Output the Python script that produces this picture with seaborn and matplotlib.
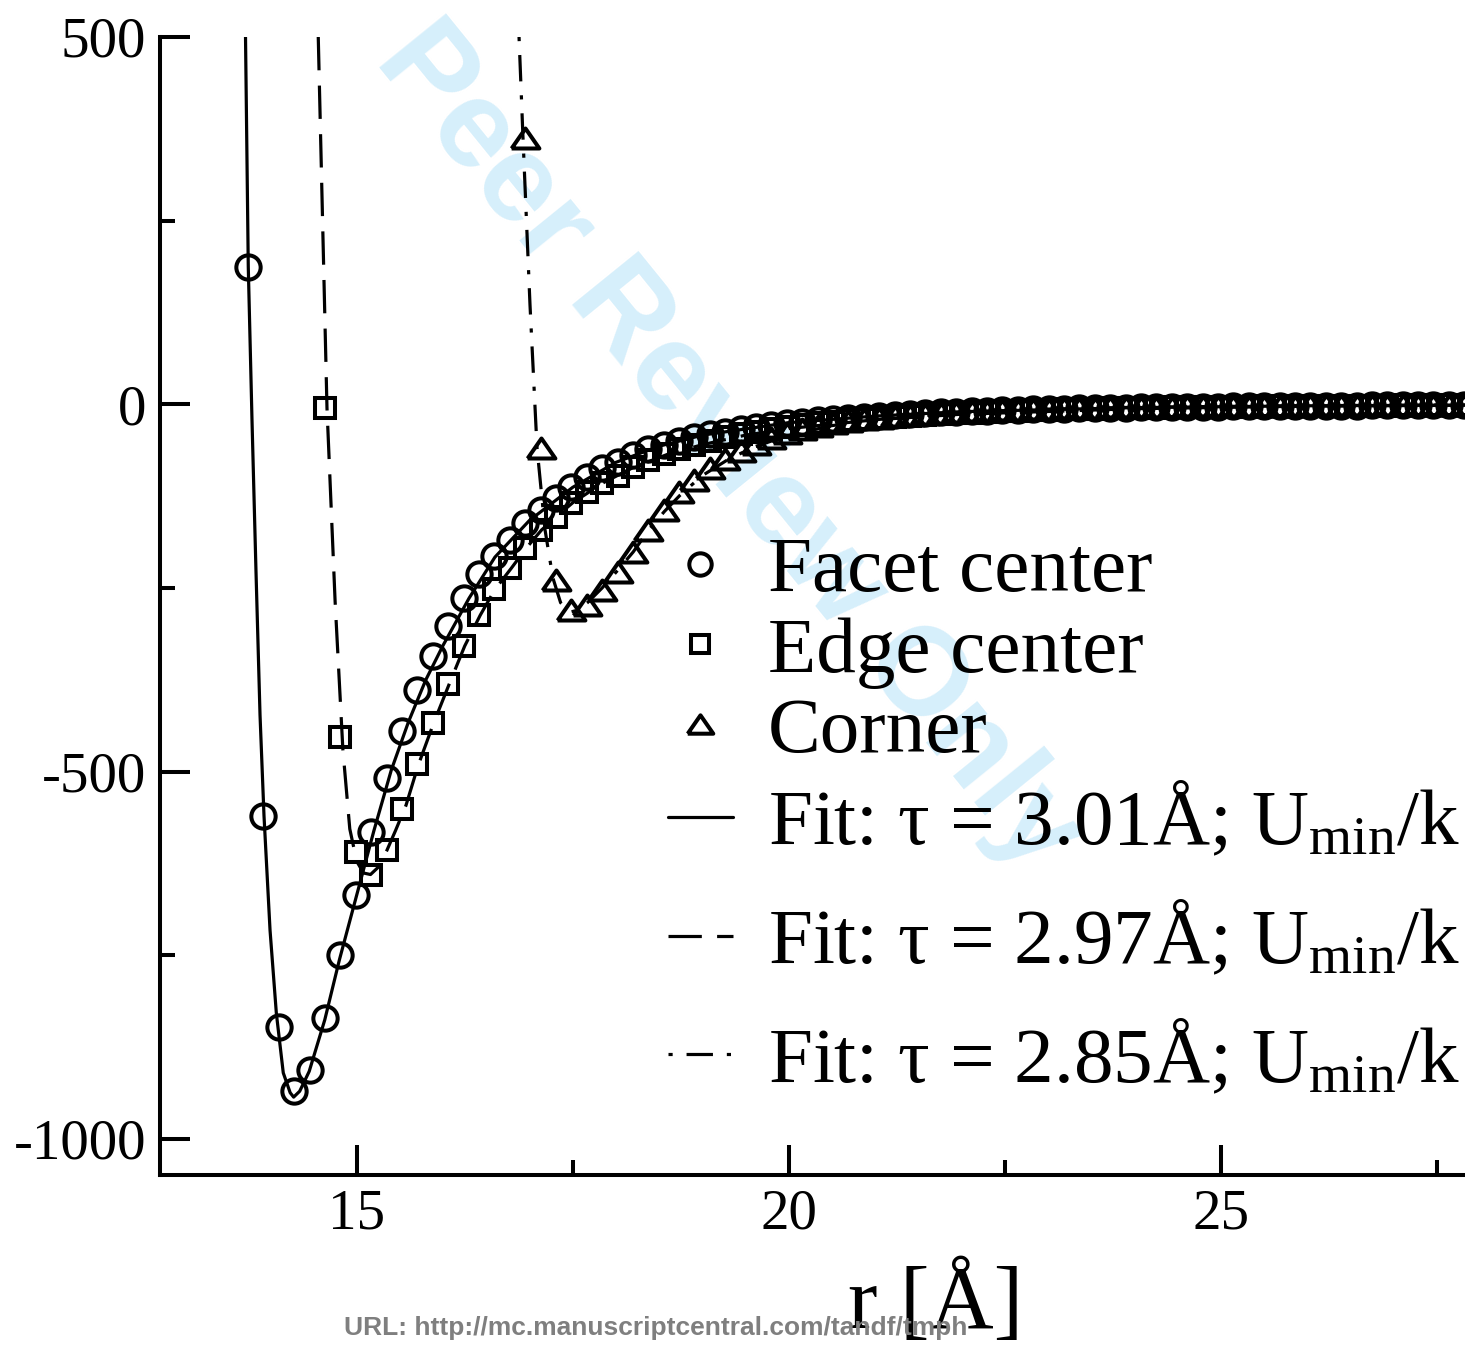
import numpy as np
import pandas as pd
import matplotlib
matplotlib.use("Agg")
import matplotlib.pyplot as plt
from matplotlib.ticker import MultipleLocator
import seaborn as sns

# ---------------- data ----------------
# evenly spaced sampling radii (Å)
r_start = 13.742
r_step = 0.1782
n_pts = 80
r_grid = np.round(r_start + r_step * np.arange(n_pts), 4)

facet_U = [187, -560, -848, -935, -906, -835, -749, -668, -582, -509,
           -445, -389, -343, -302, -263, -231, -206, -184, -162, -144,
           -127, -113, -99, -87, -79, -69,
           -61, -55, -50, -45, -41, -37, -34, -31, -28, -26, -24, -22, -20,
           -18, -17, -15.5, -14, -13, -12, -11, -10, -9.3, -8.6, -8, -7.4,
           -6.9, -6.4, -6.0, -5.6, -5.2, -4.8, -4.5, -4.2, -3.9, -3.7, -3.4,
           -3.2, -3.0, -2.8, -2.6, -2.5, -2.3, -2.2, -2.0, -1.9, -1.8, -1.7,
           -1.6, -1.5, -1.4, -1.3, -1.2, -1.2, -1.1]
facet_first = 0

edge_U = [-5, -453, -609, -641, -607, -551, -490, -434, -381, -329, -287,
          -252, -223, -196, -171, -154, -134, -119, -107, -98, -85,
          -76, -68, -61, -55, -50, -45, -41, -37, -34, -31, -28, -26, -24,
          -22, -20, -18.5, -17, -15.5, -14.3, -13.2, -12.2, -11.2, -10.4,
          -9.6, -8.9,
          -8.2, -7.6, -7.0, -6.5, -6.0, -5.6, -5.2, -4.8, -4.5, -4.2, -3.9,
          -3.6, -3.4, -3.2, -3.0, -2.8, -2.6, -2.4, -2.3, -2.1, -2.0, -1.9,
          -1.8, -1.7, -1.6, -1.5, -1.4, -1.3, -1.2]
edge_first = 5

corner_U = [362, -59, -239, -280, -273, -253, -228, -201,
            -171, -144, -120, -103, -87, -74, -63, -54, -46, -39, -34, -30,
            -26, -23, -20.5, -18.3, -16.4, -14.7, -13.2, -11.9, -10.7, -9.7,
            -8.8, -8.0, -7.3,
            -6.7, -6.1, -5.6, -5.1, -4.7, -4.3, -4.0, -3.7, -3.4, -3.1, -2.9,
            -2.7, -2.5, -2.3, -2.1, -2.0, -1.9, -1.7, -1.6, -1.5, -1.4, -1.3,
            -1.2, -1.15, -1.1, -1.0, -0.95, -0.9, -0.85]
corner_first = 18

fit1_r = [13.713, 13.745, 13.788, 13.834, 13.881, 13.927, 13.997, 14.07,
          14.15, 14.23, 14.27, 14.34, 14.45, 14.63, 14.80, 15.0, 15.2, 15.4,
          15.6, 15.8, 16.0, 16.3, 16.6, 17.0, 17.5, 18.0, 18.5, 19.0, 20.0,
          21.0, 22.0, 24.0, 26.0, 28.0]
fit1_U = [500, 187, -21, -226, -423, -560, -716, -829, -910, -937, -943,
          -935, -908, -838, -756, -668, -580, -498, -432, -375, -328, -264,
          -208, -158, -113, -79, -57, -42, -25, -16, -10, -4.5, -2, -1]

fit2_r = [14.555, 14.656, 14.75, 14.84, 14.92, 15.00, 15.08, 15.16, 15.25,
          15.35, 15.45, 15.57, 15.71, 15.89, 16.07, 16.25, 16.43, 16.6,
          16.79, 16.96, 17.14, 17.32, 17.5, 17.85, 18.2, 18.6, 19.0, 19.5,
          20.0, 21.0, 22.0, 24.0, 26.0, 28.0]
fit2_U = [500, -5, -268, -470, -578, -622, -638, -640, -630, -607, -580,
          -546, -492, -434, -381, -329, -287, -252, -223, -196, -171, -152,
          -134, -107, -86, -68, -55, -42, -33, -21, -13.5, -6, -2.5, -1.2]

fit3_r = [16.879, 16.925, 17.006, 17.087, 17.18, 17.27, 17.36, 17.47, 17.56,
          17.67, 17.84, 18.02, 18.2, 18.38, 18.56, 18.74, 19.0, 19.3, 19.6,
          20.0, 20.5, 21.0, 22.0, 23.0, 24.0, 26.0, 28.0]
fit3_U = [500, 362, 135, -59, -171, -236, -270, -283, -280, -270, -250,
          -226, -201, -171, -146, -124, -97, -75, -58, -42, -29, -21, -11,
          -6.5, -4, -1.8, -0.8]

labels = ["Facet center", "Edge center", "Corner",
          "Fit: τ = 3.01Å; U$_{\\mathrm{min}}$/k",
          "Fit: τ = 2.97Å; U$_{\\mathrm{min}}$/k",
          "Fit: τ = 2.85Å; U$_{\\mathrm{min}}$/k"]

x_ticks = [15, 20, 25]
y_ticks = [-1000, -500, 0, 500]

# ---------------- style ----------------
sns.set_theme(style="ticks")
plt.rcParams["font.family"] = ["Liberation Serif", "DejaVu Serif"]
plt.rcParams["mathtext.fontset"] = "custom"
plt.rcParams["mathtext.rm"] = "Liberation Serif"
plt.rcParams["mathtext.it"] = "Liberation Serif:italic"
plt.rcParams["axes.unicode_minus"] = False
plt.rcParams["lines.scale_dashes"] = False
for k in ["text.color", "axes.labelcolor", "xtick.color", "ytick.color",
          "axes.edgecolor"]:
    plt.rcParams[k] = "black"

fig = plt.figure(figsize=(14.65, 13.45), dpi=100)
ax = fig.add_axes([0.1092, 0.1264, 0.8908, 0.8461])

def series(first, vals):
    return pd.DataFrame({"r": r_grid[first:first + len(vals)], "U": vals})

tri = [(-1, -0.72), (1, -0.72), (0, 0.72), (-1, -0.72)]
mk_common = dict(linestyle="none", markerfacecolor="none",
                 markeredgecolor="black", markeredgewidth=2.9, color="black")

d1 = series(facet_first, facet_U)
d2 = series(edge_first, edge_U)
d3 = series(corner_first, corner_U)
sns.lineplot(data=d1, x="r", y="U", ax=ax, marker="o", markersize=17.5,
             sort=False, estimator=None, label=labels[0], legend=False, **mk_common)
sns.lineplot(data=d2, x="r", y="U", ax=ax, marker="s", markersize=14,
             sort=False, estimator=None, label=labels[1], legend=False, **mk_common)
sns.lineplot(data=d3, x="r", y="U", ax=ax, marker=tri, markersize=20,
             sort=False, estimator=None, label=labels[2], legend=False, **mk_common)

f1 = pd.DataFrame({"r": fit1_r, "U": fit1_U})
f2 = pd.DataFrame({"r": fit2_r, "U": fit2_U})
f3 = pd.DataFrame({"r": fit3_r, "U": fit3_U})
sns.lineplot(data=f1, x="r", y="U", ax=ax, color="black", linewidth=2.3,
             sort=False, estimator=None, label=labels[3], legend=False)
sns.lineplot(data=f2, x="r", y="U", ax=ax, color="black", linewidth=2.3,
             sort=False, estimator=None, label=labels[4], legend=False)
sns.lineplot(data=f3, x="r", y="U", ax=ax, color="black", linewidth=2.3,
             sort=False, estimator=None, label=labels[5], legend=False)
lines = ax.get_lines()
lines[4].set_dashes((24, 11))
lines[5].set_dashes((3, 10, 19, 10))

ax.set_xlim(12.723, 27.828)
ax.set_ylim(-1049, 500)
ax.xaxis.set_minor_locator(MultipleLocator(2.5))
ax.yaxis.set_minor_locator(MultipleLocator(250))
ax.set_xticks(x_ticks)
ax.set_yticks(y_ticks)
ax.set_xticklabels([str(t) for t in x_ticks])
ax.set_yticklabels([str(t) for t in y_ticks])

for s in ["top", "right"]:
    ax.spines[s].set_visible(False)
for s in ["left", "bottom"]:
    ax.spines[s].set_linewidth(2.9)
    ax.spines[s].set_color("black")
ax.tick_params(which="both", direction="in", color="black", width=2.9,
               bottom=True, left=True, top=False, right=False)
ax.tick_params(which="major", length=21.6, labelsize=41, pad=10,
               labelcolor="black")
ax.tick_params(which="minor", length=10.8)
ax.set_xlabel("r [Å]", fontsize=64, color="black")
ax.set_ylabel("")
ax.xaxis.set_label_coords(0.594, -0.077)

handles = ax.get_lines()
leg1 = ax.legend(handles[:3], labels[:3], loc="upper left",
                 bbox_to_anchor=(668 / 1465, 1 - 536 / 1345),
                 bbox_transform=fig.transFigure, frameon=False,
                 fontsize=57, handlelength=0.82, handletextpad=0.44,
                 borderpad=0, borderaxespad=0, labelspacing=0.1,
                 markerscale=0.92)
ax.add_artist(leg1)
leg2 = ax.legend(handles[3:], labels[3:], loc="upper left",
                 bbox_to_anchor=(668 / 1465, 1 - 782 / 1345),
                 bbox_transform=fig.transFigure, frameon=False,
                 fontsize=57, handlelength=0.82, handletextpad=0.44,
                 borderpad=0, borderaxespad=0, labelspacing=0.5)

ax.text(0.497, 0.667, "Peer Review Only", transform=fig.transFigure,
        rotation=-51, rotation_mode="anchor", ha="center", va="center",
        fontsize=90, fontweight="bold", family="Liberation Sans",
        color="#d6effb", zorder=0, clip_on=False)

fig.text(0.4475, 0.0126, "URL: http://mc.manuscriptcentral.com/tandf/tmph",
         ha="center", va="center", fontsize=19, fontweight="bold",
         family="Liberation Sans", color="#7f7f7f", zorder=10)

fig.savefig("out.png", dpi=100)
